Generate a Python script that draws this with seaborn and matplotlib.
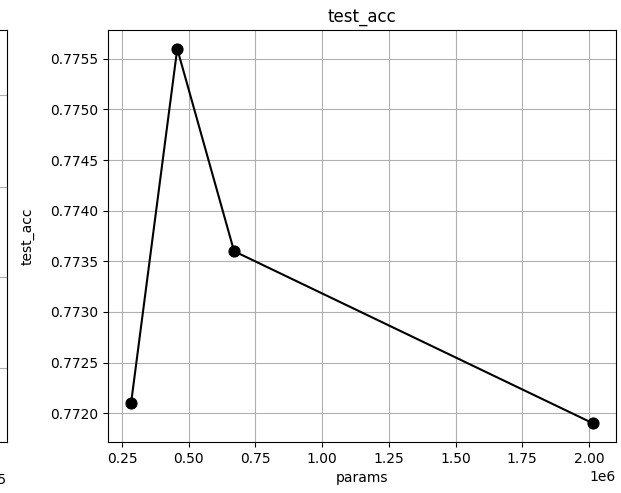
import matplotlib
matplotlib.use("Agg")
import matplotlib.pyplot as plt
import seaborn as sns
import pandas as pd

# model size vs. test accuracy
params = [0.284e6, 0.457e6, 0.670e6, 2.015e6]
test_acc = [0.7721, 0.7756, 0.7736, 0.7719]

df = pd.DataFrame({"params": params, "test_acc": test_acc})

fig = plt.figure(figsize=(6.21, 4.93), dpi=100)

# neighbouring panel (only its right edge falls inside the figure)
ax_prev = fig.add_axes([-0.6, 0.1034, 0.6113, 0.8357])
ax_prev.set_xlim(0, 2.1e5)
ax_prev.set_xticks([0, 0.5e5, 1.0e5, 1.5e5])
ax_prev.set_ylim(0, 1)
ax_prev.set_yticks([0.180, 0.400, 0.619, 0.842])
ax_prev.tick_params(labelbottom=False, labelleft=False)
ax_prev.grid(True)
fig.text(7 / 621, 1 - 480 / 493, "1e5", ha="right", va="center", fontsize=10)

ax = fig.add_axes([108 / 621, 0.1034, (616 - 108) / 621, 0.8357])
sns.lineplot(data=df, x="params", y="test_acc", ax=ax, color="black",
             marker="o", markersize=8, markeredgecolor="black", sort=False)
ax.set_title("test_acc")
ax.set_xlabel("params")
ax.set_ylabel("test_acc", labelpad=11)
ax.grid(True)

fig.savefig("out.png", dpi=100)
